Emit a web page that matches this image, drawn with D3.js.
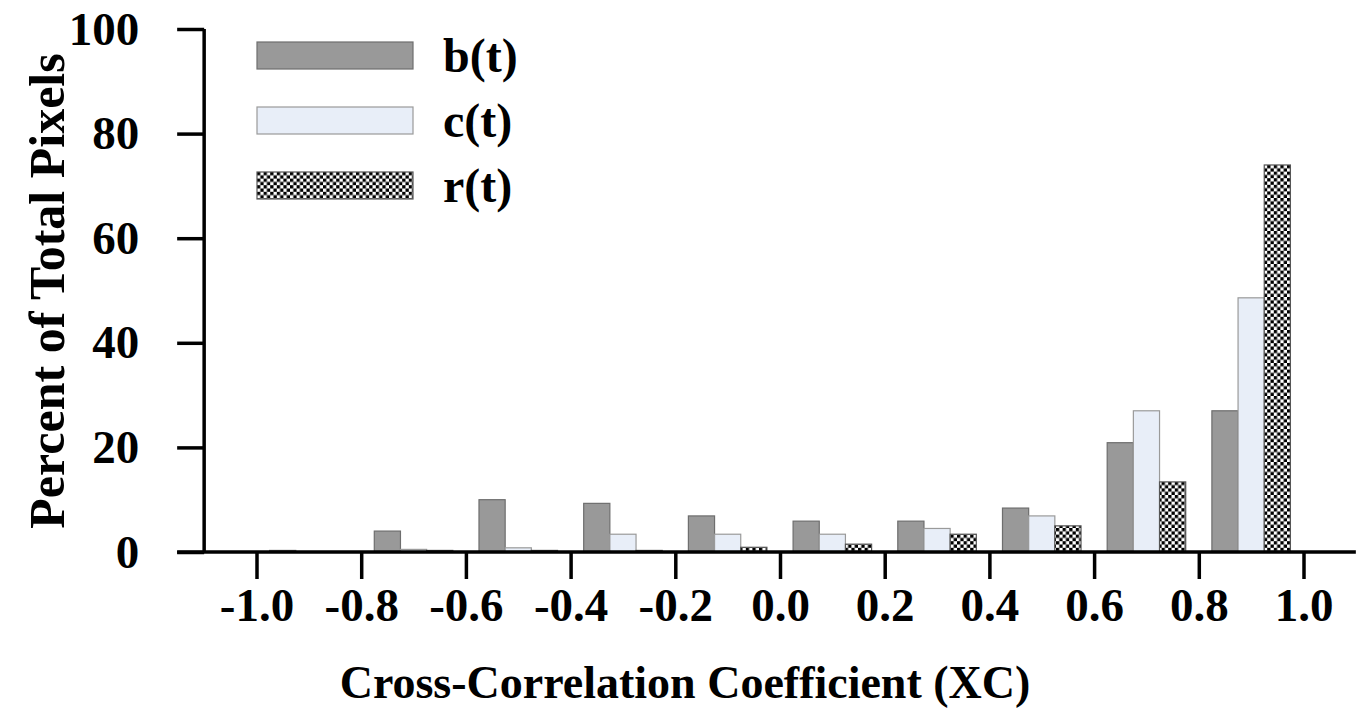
<!DOCTYPE html>
<html>
<head>
<meta charset="utf-8">
<script src="https://cdn.jsdelivr.net/npm/d3@7"></script>
<style>
  body { margin: 0; background: #fff; }
  svg text { font-family: "Liberation Serif", "Times New Roman", serif; font-weight: bold; fill: #000; }
</style>
</head>
<body>
<svg id="chart" width="1368" height="713"></svg>
<script>
// bin centres of the cross-correlation histogram
const bins = [-0.9, -0.7, -0.5, -0.3, -0.1, 0.1, 0.3, 0.5, 0.7, 0.9];
const bVals = [0.3, 4.0, 10.0, 9.3, 6.9, 5.9, 5.9, 8.4, 20.9, 27.0];
const cVals = [0, 0.5, 0.8, 3.4, 3.4, 3.4, 4.5, 6.9, 27.0, 48.6];
const rVals = [0, 0.3, 0.3, 0.3, 0.9, 1.5, 3.4, 5.0, 13.4, 74.0];
const seriesNames = ["b(t)", "c(t)", "r(t)"];
const xTicks = [-1.0, -0.8, -0.6, -0.4, -0.2, 0.0, 0.2, 0.4, 0.6, 0.8, 1.0];
const yTicks = [0, 20, 40, 60, 80, 100];

const series = [bVals, cVals, rVals];
const fills = ["#999999", "#e8eef8", "url(#checker)"];
const strokes = ["#6e6e6e", "#9a9a9a", "#555555"];

const svg = d3.select("#chart");

// checkerboard for r(t)
const cell = 3.3;
const pat = svg.append("defs").append("pattern")
    .attr("id", "checker")
    .attr("patternUnits", "userSpaceOnUse")
    .attr("width", cell * 2)
    .attr("height", cell * 2);
pat.append("rect").attr("width", cell * 2).attr("height", cell * 2).attr("fill", "#fff");
pat.append("rect").attr("width", cell).attr("height", cell).attr("fill", "#000");
pat.append("rect").attr("x", cell).attr("y", cell).attr("width", cell).attr("height", cell).attr("fill", "#000");

const x = d3.scaleLinear().domain([-1, 1]).range([256.5, 1303.5]);
const y = d3.scaleLinear().domain([0, 100]).range([552, 29]);

const barW = 0.05; // in data units
const tickLen = 27;

// bars
series.forEach((vals, s) => {
    svg.append("g")
        .attr("class", "bars s" + s)
        .selectAll("rect")
        .data(vals.map((v, i) => ({ bin: bins[i], v })))
        .enter()
        .append("rect")
        .attr("x", d => x(d.bin - 1.5 * barW + s * barW))
        .attr("width", x(barW) - x(0))
        .attr("y", d => y(d.v))
        .attr("height", d => y(0) - y(d.v))
        .attr("fill", fills[s])
        .attr("stroke", strokes[s])
        .attr("stroke-width", 1.2);
});

// axes (plain hyphen for negatives, like the original)
const fmt = d => d.toFixed(1);

const xAxis = d3.axisBottom(x)
    .tickValues(xTicks)
    .tickFormat(fmt)
    .tickSize(tickLen)
    .tickSizeOuter(0)
    .tickPadding(9);

const gx = svg.append("g")
    .attr("transform", `translate(0,${y(0)})`)
    .call(xAxis);
gx.select(".domain").remove();
gx.selectAll(".tick line").attr("stroke", "#000").attr("stroke-width", 3.5);
gx.selectAll(".tick text").style("font-size", "47px");

const yAxis = d3.axisLeft(y)
    .tickValues(yTicks)
    .tickSize(tickLen)
    .tickSizeOuter(0)
    .tickPadding(38);

const gy = svg.append("g")
    .attr("transform", `translate(${x(-1.1)},0)`)
    .call(yAxis);
gy.select(".domain").remove();
gy.selectAll(".tick line").attr("stroke", "#000").attr("stroke-width", 3.5);
gy.selectAll(".tick text").style("font-size", "47px");

// axis lines
svg.append("line")
    .attr("x1", x(-1.1) - tickLen).attr("x2", x(1.1))
    .attr("y1", y(0)).attr("y2", y(0))
    .attr("stroke", "#000").attr("stroke-width", 3.5);
svg.append("line")
    .attr("x1", x(-1.1)).attr("x2", x(-1.1))
    .attr("y1", y(0)).attr("y2", y(100))
    .attr("stroke", "#000").attr("stroke-width", 3.5);

// axis titles
svg.append("text")
    .attr("x", 685)
    .attr("y", 698)
    .attr("text-anchor", "middle")
    .style("font-size", "46px")
    .text("Cross-Correlation Coefficient (XC)");

svg.append("text")
    .attr("transform", "translate(64,291) rotate(-90)")
    .attr("text-anchor", "middle")
    .style("font-size", "50px")
    .text("Percent of Total Pixels");

// legend
const legend = svg.append("g").attr("transform", "translate(257,42)");
const rows = legend.selectAll("g")
    .data(seriesNames)
    .enter()
    .append("g")
    .attr("transform", (d, i) => `translate(0,${i * 65})`);
rows.append("rect")
    .attr("width", 156)
    .attr("height", 27)
    .attr("fill", (d, i) => fills[i])
    .attr("stroke", (d, i) => strokes[i])
    .attr("stroke-width", 1.2);
rows.append("text")
    .attr("x", 186)
    .attr("y", 13.5)
    .attr("dy", "0.35em")
    .style("font-size", "48px")
    .text(d => d);
</script>
</body>
</html>
